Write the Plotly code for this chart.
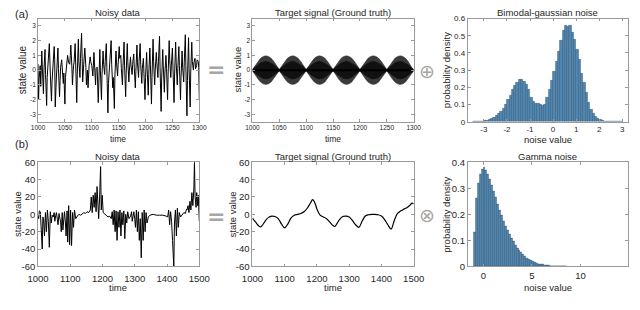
import plotly.graph_objects as go

W, H = 640, 310

# ---------------- data ----------------
# (a) noisy data
t_a = [1000, 1001, 1002, 1004, 1005, 1007, 1008, 1010, 1011, 1013, 1014, 1016, 1017, 1019, 1021, 1023,
       1025, 1026, 1028, 1030, 1031, 1032, 1034, 1035, 1037, 1038, 1040, 1041, 1042, 1044, 1045, 1047,
       1048, 1050, 1051, 1053, 1055, 1057, 1059, 1060, 1061, 1063, 1064, 1066, 1067, 1069, 1070, 1072,
       1073, 1075, 1076, 1078, 1079, 1081, 1082, 1083, 1085, 1086, 1087, 1089, 1090, 1092, 1093, 1095,
       1097, 1098, 1100, 1102, 1104, 1105, 1107, 1108, 1110, 1112, 1113, 1115, 1116, 1118, 1119, 1121,
       1122, 1124, 1125, 1127, 1128, 1130, 1131, 1133, 1134, 1136, 1137, 1139, 1140, 1142, 1143, 1145,
       1146, 1148, 1149, 1151, 1152, 1154, 1155, 1157, 1158, 1160, 1161, 1163, 1164, 1166, 1167, 1169,
       1170, 1172, 1173, 1175, 1176, 1178, 1179, 1181, 1182, 1184, 1185, 1187, 1188, 1190, 1191, 1193,
       1194, 1196, 1197, 1199, 1200, 1202, 1203, 1205, 1206, 1208, 1209, 1211, 1212, 1214, 1215, 1217,
       1218, 1220, 1221, 1223, 1224, 1226, 1227, 1229, 1230, 1232, 1233, 1235, 1236, 1238, 1239, 1241,
       1242, 1244, 1245, 1247, 1248, 1250, 1251, 1253, 1254, 1256, 1257, 1259, 1260, 1262, 1263, 1265,
       1266, 1268, 1269, 1271, 1272, 1274, 1275, 1277, 1278, 1280, 1281, 1283, 1284, 1286, 1287, 1289,
       1290, 1292, 1293, 1295, 1296, 1298, 1299, 1300]
v_a = [0.4, -2.0, -0.6, 0.3, -1.1, 1.3, 0.2, -1.6, 0.0, 1.4, -0.3, -2.4, -0.5, 0.5, 1.8, -0.4,
       -2.1, -0.8, 0.2, 1.6, 0.7, -2.5, -0.6, 0.6, 1.5, 0.1, -1.8, -0.7, 0.2, 0.7, 0.0, -0.9,
       -0.2, -2.3, -0.5, 0.6, 1.0, 0.5, 0.4, 1.0, 1.7, 0.2, -1.0, 0.3, 0.5, 1.8, 0.1, -2.2,
       -0.3, 2.1, 0.6, -0.5, 0.8, 2.5, 0.9, -0.8, 0.4, 0.9, 1.5, 0.2, -1.0, 0.0, -1.2, 0.3,
       0.9, 0.6, 0.3, -0.4, 1.2, 0.5, -1.0, 0.1, 0.2, -2.2, -0.4, 1.4, 0.0, -2.0, -0.3, 1.3,
       0.4, -0.3, 0.6, 1.8, 0.2, -2.9, -0.9, 0.3, 0.9, 2.0, 0.4, -1.2, -0.5, -2.6, -0.4, 1.3,
       0.5, -0.4, 0.4, 1.6, 0.8, 1.0, 0.1, -1.0, 0.2, 1.9, 0.3, -1.8, -0.2, 1.8, 0.6, -0.8,
       0.0, 0.9, 0.3, -0.3, 0.4, 1.1, 0.2, -1.2, -0.1, 1.7, 0.5, -0.5, 0.6, 1.8, 0.4, -0.9,
       0.1, 0.8, -0.2, -2.0, -0.5, 1.2, 0.1, -1.7, -0.3, 1.5, 0.4, -2.3, -0.5, 2.1, 0.6, -1.0,
       0.0, 1.2, 0.5, -0.5, 0.6, 2.3, 0.2, -2.8, -0.6, 1.4, 0.3, -1.5, -0.2, 1.0, 0.1, -2.0,
       -0.3, 2.0, 0.7, -0.5, 0.3, 1.5, 0.2, -2.2, -0.4, 1.9, 0.5, -1.0, 0.1, 1.6, 0.3, -2.0,
       -0.5, 1.3, 0.2, -0.8, 0.5, 2.4, 0.3, -3.1, -0.7, 2.2, 0.1, -2.5, -0.2, 1.9, 0.6, 0.0,
       0.5, 0.8, 0.1, 0.3, 0.7, 0.6, 0.2, -2.0]

# (a) target signal envelope (outer and inner), t = 1000..1300 step 5
t_env = list(range(1000, 1301, 5))
env_outer = [0.04, 0.30, 0.58, 0.80, 0.93, 0.97, 0.93, 0.80, 0.58, 0.30,
             0.04, 0.30, 0.58, 0.80, 0.93, 0.97, 0.93, 0.80, 0.58, 0.30,
             0.04, 0.30, 0.58, 0.80, 0.93, 0.97, 0.93, 0.80, 0.58, 0.30,
             0.04, 0.30, 0.58, 0.80, 0.93, 0.97, 0.93, 0.80, 0.58, 0.30,
             0.04, 0.30, 0.58, 0.80, 0.93, 0.97, 0.93, 0.80, 0.58, 0.30,
             0.04, 0.30, 0.58, 0.80, 0.93, 0.97, 0.93, 0.80, 0.58, 0.30,
             0.04]
env_inner = [0.05, 0.20, 0.35, 0.48, 0.56, 0.60, 0.56, 0.48, 0.35, 0.20,
             0.05, 0.20, 0.35, 0.48, 0.56, 0.60, 0.56, 0.48, 0.35, 0.20,
             0.05, 0.20, 0.35, 0.48, 0.56, 0.60, 0.56, 0.48, 0.35, 0.20,
             0.05, 0.20, 0.35, 0.48, 0.56, 0.60, 0.56, 0.48, 0.35, 0.20,
             0.05, 0.20, 0.35, 0.48, 0.56, 0.60, 0.56, 0.48, 0.35, 0.20,
             0.05, 0.20, 0.35, 0.48, 0.56, 0.60, 0.56, 0.48, 0.35, 0.20,
             0.05]

# (a) bimodal-gaussian noise histogram
bim_x = [-3.45, -3.35, -3.25, -3.15, -3.05, -2.95, -2.85, -2.75, -2.65, -2.55, -2.45, -2.35, -2.25,
         -2.15, -2.05, -1.95, -1.85, -1.75, -1.65, -1.55, -1.45, -1.35, -1.25, -1.15, -1.05, -0.95,
         -0.85, -0.75, -0.65, -0.55, -0.45, -0.35, -0.25, -0.15, -0.05, 0.05, 0.15, 0.25, 0.35, 0.45,
         0.55, 0.65, 0.75, 0.85, 0.95, 1.05, 1.15, 1.25, 1.35, 1.45, 1.55, 1.65, 1.75, 1.85, 1.95,
         2.05, 2.15, 2.25, 2.35, 2.45, 2.55, 2.65, 2.75, 2.85, 2.95]
bim_y = [0.0005, 0.001, 0.001, 0.002, 0.003, 0.005, 0.008, 0.012, 0.018, 0.026, 0.036, 0.048, 0.062,
         0.078, 0.100, 0.130, 0.155, 0.185, 0.210, 0.230, 0.245, 0.243, 0.235, 0.215, 0.185, 0.140,
         0.115, 0.108, 0.105, 0.100, 0.097, 0.100, 0.140, 0.190, 0.240, 0.290, 0.350, 0.410, 0.470, 0.530,
         0.560, 0.555, 0.560, 0.520, 0.480, 0.420, 0.360, 0.280, 0.230, 0.170, 0.110, 0.070, 0.045, 0.030, 0.018,
         0.010, 0.006, 0.003, 0.0015, 0.001, 0.0005, 0.0003, 0.0002, 0.0001, 0.0001]

# (b) noisy data
t_b = [1000, 1002, 1004, 1007, 1010, 1013, 1015, 1017, 1020, 1023, 1026, 1029, 1032, 1035, 1038, 1041, 1044, 1047,
       1050, 1052, 1055, 1057, 1060, 1062, 1065, 1067, 1070, 1072, 1075, 1077, 1080, 1082, 1085, 1087, 1090,
       1092, 1095, 1098, 1101, 1104, 1107, 1110, 1113,
       1117, 1122, 1127, 1132, 1137, 1142, 1147, 1152, 1157, 1162, 1165, 1168, 1171, 1174, 1177, 1180,
       1183, 1185, 1188, 1191, 1194, 1196, 1199, 1202, 1207, 1212, 1217, 1222, 1227, 1230, 1233, 1236,
       1239, 1242, 1245, 1248, 1251, 1254, 1257, 1260, 1263, 1266, 1269, 1272, 1275, 1278, 1282, 1287,
       1290, 1292, 1295, 1297, 1300, 1302, 1305, 1308, 1311, 1314, 1317, 1320, 1323, 1326, 1329, 1332, 1335, 1338, 1342,
       1347, 1357, 1367, 1377, 1387, 1397, 1402, 1405, 1408, 1411, 1414, 1417, 1419, 1421, 1423, 1426,
       1429, 1432, 1435, 1438, 1442, 1447, 1452, 1457, 1460, 1462, 1465, 1468, 1471, 1474, 1477, 1480, 1483,
       1485, 1487, 1490, 1492, 1495, 1497, 1500]
v_b = [-2, -5, 4, 3, -18, -40, -3, -5, -25, 2, -20, 5, -8, -38, 3, -10, -1, -3,
       2, -8, -1, 2, -6, -12, 1, -2, -9, -20, 2, -18, 3, 3, -10, -25, 4,
       -32, 10, -35, 5, -36, 2, -15, 5,
       -5, -2, 0, -1, 1, 2, 1, 3, 2, 5, 20, 2, 22, 8, 25, 3,
       32, 10, -5, 20, 55, 5, 22, 2, 0, -2, -3, -2, -5, 3, -12, 5,
       -20, 4, -30, 3, -15, 5, -25, 2, -12, 4, -28, 0, -10, 3, -5, -2,
       3, -8, 2, 3, -6, -15, 5, -20, 3, -30, -5, -50, 2, -30, 5, -20, 2, -10, -3,
       -1, 0, -1, -1, -1, -2, -3, 5, -12, 3, -8, -30, -47, -60, -10, 5,
       -25, 7, -15, 2, -3, 0, 2, 1, 6, 5, 10, 2, 15, 5, 25, 10, 28,
       60, 20, 8, 25, 10, 22, -8]

# (b) target signal
t_tb = [1000, 1010, 1020, 1025, 1030, 1040, 1050, 1060, 1070, 1080, 1090, 1100, 1110, 1120, 1130, 1140,
        1150, 1160, 1170, 1180, 1187, 1195, 1200, 1210, 1220, 1230, 1240, 1250, 1255, 1260, 1270, 1280,
        1290, 1300, 1310, 1320, 1330, 1340, 1350, 1360, 1370, 1380, 1390, 1400, 1410, 1420, 1430, 1440,
        1450, 1460, 1470, 1480, 1490, 1495, 1500]
v_tb = [-4.5, -9, -13.5, -14.5, -13, -7.5, -3.5, -2, -2.5, -5, -11, -15.5, -11, -4, -1, 0,
        1, 3, 7, 13, 17, 12, 6, -1, -3, -5, -9, -13, -14, -12, -6, -2.5,
        -2, -3, -7, -12, -15, -8, -2, -0.5, 0, 0, -0.5, -2, -6, -12, -17, -7,
        1, 4, 6, 8, 11, 13, 12]

# (b) gamma noise histogram
gam_x = [-0.9, -0.7, -0.5, -0.3, -0.1, 0.1, 0.3, 0.5, 0.7, 0.9, 1.1, 1.3, 1.5, 1.7, 1.9, 2.1, 2.3,
         2.5, 2.7, 2.9, 3.1, 3.3, 3.5, 3.7, 3.9, 4.1, 4.3, 4.5, 4.7, 4.9, 5.1, 5.3, 5.5, 5.7, 5.9,
         6.1, 6.3, 6.5, 6.7, 6.9, 7.1, 7.3, 7.5, 7.7, 7.9, 8.1, 8.3, 8.5]
gam_y = [0.13, 0.26, 0.32, 0.355, 0.375, 0.38, 0.37, 0.355, 0.335, 0.31, 0.29, 0.265, 0.24, 0.215,
         0.195, 0.175, 0.155, 0.138, 0.122, 0.108, 0.095, 0.082, 0.071, 0.061, 0.053, 0.045, 0.038,
         0.032, 0.027, 0.022, 0.018, 0.015, 0.012, 0.010, 0.008, 0.0065, 0.005, 0.004, 0.003, 0.0025,
         0.002, 0.0015, 0.0012, 0.001, 0.0008, 0.0006, 0.0005, 0.0004]

# ---------------- figure ----------------
def fx(p):
    return p / W


def fy(p):
    return 1 - p / H


FONT = "Liberation Sans, Arial, Helvetica, sans-serif"
TXT = "#262626"
BOX = "#9a9a9a"
BLUE = "#4f86b3"
EDGE = "#2c4a63"

fig = go.Figure()

# panel 1: noisy data (a)
fig.add_trace(go.Scatter(x=t_a, y=v_a, mode="lines", line=dict(color="black", width=1.0),
                         xaxis="x", yaxis="y", showlegend=False))

# panel 2: target signal (a)
xs_poly = t_env + t_env[::-1]
fig.add_trace(go.Scatter(x=xs_poly, y=env_outer + [-v for v in env_outer[::-1]], fill="toself",
                         fillcolor="#3a3a3a", mode="lines", line=dict(color="#2e2e2e", width=0.5),
                         xaxis="x2", yaxis="y2", showlegend=False))
fig.add_trace(go.Scatter(x=xs_poly, y=env_inner + [-v for v in env_inner[::-1]], fill="toself",
                         fillcolor="#111111", mode="lines", line=dict(color="#111111", width=0.5),
                         xaxis="x2", yaxis="y2", showlegend=False))
fig.add_trace(go.Scatter(x=[t_env[0], t_env[-1]], y=[0, 0], mode="lines",
                         line=dict(color="black", width=2), xaxis="x2", yaxis="y2", showlegend=False))

# panel 3: bimodal histogram
fig.add_trace(go.Bar(x=bim_x, y=bim_y, width=0.1, marker=dict(color=BLUE, line=dict(color=EDGE, width=0.4)),
                     xaxis="x3", yaxis="y3", showlegend=False))

# panel 4: noisy data (b)
fig.add_trace(go.Scatter(x=t_b, y=v_b, mode="lines", line=dict(color="black", width=1.0),
                         xaxis="x4", yaxis="y4", showlegend=False))

# panel 5: target (b)
fig.add_trace(go.Scatter(x=t_tb, y=v_tb, mode="lines", line=dict(color="black", width=1.2, shape="spline"),
                         xaxis="x5", yaxis="y5", showlegend=False))

# panel 6: gamma histogram
fig.add_trace(go.Bar(x=gam_x, y=gam_y, width=0.2, marker=dict(color=BLUE, line=dict(color=EDGE, width=0.4)),
                     xaxis="x6", yaxis="y6", showlegend=False))

cols = [(28, 195), (250, 417), (473, 639)]
rows = [(13, 120), (162, 270)]


def ax_common(size):
    return dict(showline=True, linecolor=BOX, linewidth=0.8, mirror="ticks", ticks="inside",
                ticklen=3, tickcolor=BOX, tickwidth=0.8, showgrid=False, zeroline=False,
                tickfont=dict(family=FONT, size=size, color=TXT), fixedrange=True)


def lab(vals):
    return ["%g" % v for v in vals]


specs = {
    1: dict(x=(1000, 1300), xt=[1000, 1050, 1100, 1150, 1200, 1250, 1300], y=(-3.5, 3.5), yt=[-3, -2, -1, 0, 1, 2, 3], fs=6.5),
    2: dict(x=(1000, 1300), xt=[1000, 1050, 1100, 1150, 1200, 1250, 1300], y=(-3.5, 3.5), yt=[-3, -2, -1, 0, 1, 2, 3], fs=6.5),
    3: dict(x=(-3.7, 3.25), xt=[-3, -2, -1, 0, 1, 2, 3], y=(0, 0.6), yt=[0, 0.1, 0.2, 0.3, 0.4, 0.5, 0.6], fs=8),
    4: dict(x=(1000, 1500), xt=[1000, 1100, 1200, 1300, 1400, 1500], y=(-60, 60), yt=[-60, -40, -20, 0, 20, 40, 60], fs=9.5),
    5: dict(x=(1000, 1500), xt=[1000, 1100, 1200, 1300, 1400, 1500], y=(-60, 60), yt=[-60, -40, -20, 0, 20, 40, 60], fs=9.5),
    6: dict(x=(-1.6, 14.9), xt=[0, 5, 10], y=(0, 0.4), yt=[0, 0.1, 0.2, 0.3, 0.4], fs=9.5),
}

layout_axes = {}
for i in range(1, 7):
    r = rows[(i - 1) // 3]
    c = cols[(i - 1) % 3]
    s = specs[i]
    xa = ax_common(s["fs"])
    xa.update(domain=[fx(c[0]), fx(c[1])], range=list(s["x"]), tickvals=s["xt"], ticktext=lab(s["xt"]),
              anchor="y" if i == 1 else "y%d" % i)
    if i in (4, 5):
        xa.update(ticklabelstandoff=3)
    ya = ax_common(s["fs"])
    ya.update(domain=[fy(r[1]), fy(r[0])], range=list(s["y"]), tickvals=s["yt"], ticktext=lab(s["yt"]),
              anchor="x" if i == 1 else "x%d" % i)
    layout_axes["xaxis" if i == 1 else "xaxis%d" % i] = xa
    layout_axes["yaxis" if i == 1 else "yaxis%d" % i] = ya

ann = []


def text(x, y, s, size, color=TXT, angle=0, family=FONT, xanchor="center", yanchor="middle"):
    ann.append(dict(x=fx(x), y=fy(y), xref="paper", yref="paper", text=s, showarrow=False,
                    font=dict(family=family, size=size, color=color), textangle=angle,
                    xanchor=xanchor, yanchor=yanchor))


# titles
text(111, 7, "Noisy data", 9.5)
text(333, 7, "Target signal (Ground truth)", 9.5)
text(556, 7, "Bimodal-gaussian noise", 9.5)
text(111, 156, "Noisy data", 9.5)
text(333, 156, "Target signal (Ground truth)", 9.5)
text(556, 156, "Gamma noise", 9.5)
# x labels
text(111, 138, "time", 8.5)
text(333, 138, "time", 8.5)
text(556, 138, "noise value", 9.5)
text(111, 292, "time", 9.5)
text(333, 292, "time", 9.5)
text(556, 292, "noise value", 9.5)
# y labels
text(12, 66, "state value", 10, angle=-90)
text(235, 66, "state value", 9.5, angle=-90)
text(451, 66, "probability density", 9.5, angle=-90)
text(7, 216, "state value", 9.5, angle=-90)
text(229, 216, "state value", 9.5, angle=-90)
text(451, 216, "probability density", 9.5, angle=-90)
# panel letters
text(2, 8, "(a)", 11, xanchor="left")
text(2, 143, "(b)", 11, xanchor="left")
# operators
text(212, 66, "<b>=</b>", 22, color="#a6a6a6", family="DejaVu Sans")
text(212, 218, "<b>=</b>", 22, color="#a6a6a6", family="DejaVu Sans")
text(431, 67, "⊕", 19, color="#a6a6a6", family="DejaVu Sans")
text(431, 217, "⊗", 19, color="#a6a6a6", family="DejaVu Sans")

fig.update_layout(width=W, height=H, margin=dict(l=0, r=0, t=0, b=0), paper_bgcolor="white",
                  plot_bgcolor="white", bargap=0, annotations=ann, **layout_axes)

fig.write_html("out.html", config={"displayModeBar": False},
               post_script="document.body.style.margin='0';document.body.style.padding='0';")
